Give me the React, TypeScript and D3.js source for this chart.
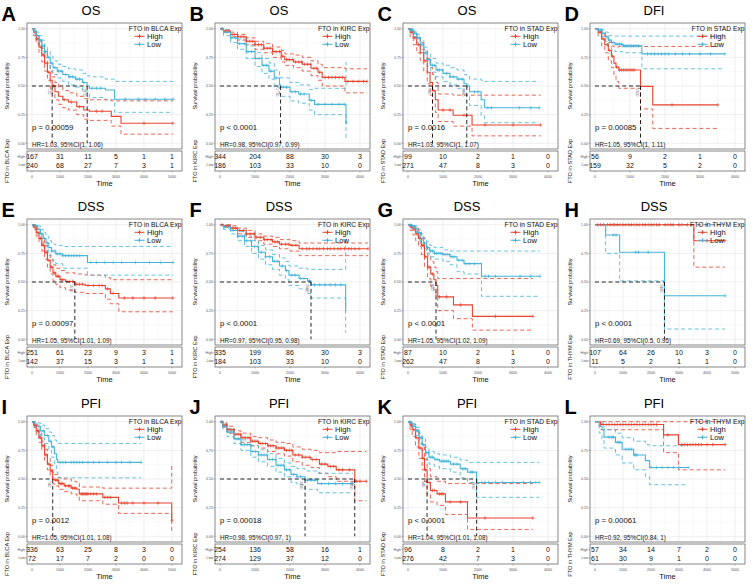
import React from 'react';
import * as d3 from 'd3';

type Row = [number, number, number, number]; // time, survival, lower CI, upper CI

const RED = '#E8442F';
const CYAN = '#46B5D9';
const FONT = "'Liberation Sans', Arial, Helvetica, sans-serif";

// ---------- Panel meta ----------
const PANEL_LETTERS = ['A', 'B', 'C', 'D', 'E', 'F', 'G', 'H', 'I', 'J', 'K', 'L'];
const PANEL_TITLES = ['OS', 'OS', 'OS', 'DFI', 'DSS', 'DSS', 'DSS', 'DSS', 'PFI', 'PFI', 'PFI', 'PFI'];
const PANEL_CANCERS = ['BLCA', 'KIRC', 'STAD', 'STAD', 'BLCA', 'KIRC', 'STAD', 'THYM', 'BLCA', 'KIRC', 'STAD', 'THYM'];
const PANEL_PVALUES = ['p = 0.00059', 'p < 0.0001', 'p = 0.0016', 'p = 0.00085', 'p = 0.00097', 'p < 0.0001', 'p < 0.0001', 'p < 0.0001', 'p = 0.0012', 'p = 0.00018', 'p < 0.0001', 'p = 0.00061'];
const PANEL_HR = [
  'HR=1.03, 95%CI(1, 1.06)', 'HR=0.98, 95%CI(0.97, 0.99)', 'HR=1.03, 95%CI(1, 1.07)', 'HR=1.05, 95%CI(1, 1.11)',
  'HR=1.05, 95%CI(1.01, 1.09)', 'HR=0.97, 95%CI(0.95, 0.98)', 'HR=1.05, 95%CI(1.02, 1.09)', 'HR=0.69, 95%CI(0.5, 0.95)',
  'HR=1.05, 95%CI(1.01, 1.08)', 'HR=0.98, 95%CI(0.97, 1)', 'HR=1.04, 95%CI(1.01, 1.08)', 'HR=0.92, 95%CI(0.84, 1)',
];
const PANEL_XMAX = [5000, 4000, 4000, 4000, 5000, 4000, 4000, 5000, 5000, 4000, 4000, 5000];
const GROUPS = ['High', 'Low'];

// ---------- Risk tables ----------
const RISK_HIGH = [
  [167, 31, 11, 5, 1, 1], [344, 204, 88, 30, 3], [99, 10, 2, 1, 0], [56, 9, 2, 1, 0],
  [251, 61, 23, 9, 3, 1], [335, 199, 86, 30, 3], [87, 10, 2, 1, 0], [107, 64, 26, 10, 3, 0],
  [336, 63, 25, 8, 3, 0], [254, 136, 58, 16, 1], [96, 8, 2, 1, 0], [57, 34, 14, 7, 2, 0],
];
const RISK_LOW = [
  [240, 68, 27, 7, 3, 1], [186, 103, 33, 10, 0], [271, 47, 8, 3, 0], [159, 32, 5, 2, 0],
  [142, 37, 15, 3, 1, 1], [184, 103, 33, 10, 0], [262, 47, 8, 3, 0], [11, 5, 2, 1, 1, 0],
  [72, 17, 7, 2, 0, 0], [274, 129, 37, 12, 0], [276, 42, 7, 3, 0], [61, 30, 9, 1, 0, 0],
];

// ---------- Curves: [time, surv, lower, upper] ----------
const A_high: Row[] = [[0, 1, 1, 1], [60, 0.97, 0.94, 0.99], [150, 0.91, 0.87, 0.95], [250, 0.84, 0.79, 0.89], [350, 0.77, 0.71, 0.83], [450, 0.70, 0.63, 0.77], [550, 0.62, 0.55, 0.70], [650, 0.55, 0.48, 0.63], [720, 0.50, 0.43, 0.58], [820, 0.45, 0.38, 0.53], [950, 0.41, 0.34, 0.49], [1100, 0.38, 0.31, 0.46], [1300, 0.36, 0.29, 0.44], [1600, 0.32, 0.25, 0.41], [1850, 0.29, 0.21, 0.39], [2050, 0.28, 0.20, 0.38], [2830, 0.235, 0.15, 0.37], [3180, 0.175, 0.08, 0.37], [5030, 0.175, 0.08, 0.37]];
const A_low: Row[] = [[0, 1, 1, 1], [60, 0.98, 0.96, 1], [150, 0.94, 0.91, 0.97], [250, 0.90, 0.86, 0.94], [350, 0.85, 0.80, 0.90], [450, 0.80, 0.75, 0.85], [550, 0.75, 0.69, 0.80], [650, 0.70, 0.64, 0.76], [750, 0.66, 0.60, 0.72], [900, 0.63, 0.57, 0.69], [1100, 0.60, 0.54, 0.67], [1300, 0.58, 0.51, 0.65], [1550, 0.56, 0.49, 0.64], [1800, 0.53, 0.46, 0.61], [1970, 0.50, 0.43, 0.59], [2050, 0.48, 0.40, 0.58], [2620, 0.465, 0.38, 0.56], [2950, 0.385, 0.27, 0.54], [5040, 0.385, 0.27, 0.54]];
const A_highCens = [180, 320, 410, 600, 780, 1150, 1400, 1700, 2300, 2500, 4000, 5030];
const A_lowCens = [120, 200, 300, 380, 480, 600, 700, 820, 950, 1050, 1200, 1350, 1450, 1600, 1700, 1850, 2150, 2300, 2450, 3330, 3800, 4050, 4400, 4750, 5040];

const B_high: Row[] = [[0, 1, 1, 1], [100, 0.98, 0.97, 0.99], [300, 0.95, 0.93, 0.97], [500, 0.93, 0.90, 0.95], [750, 0.89, 0.86, 0.92], [1000, 0.86, 0.82, 0.89], [1250, 0.83, 0.79, 0.87], [1500, 0.80, 0.75, 0.84], [1750, 0.76, 0.71, 0.81], [1850, 0.73, 0.68, 0.78], [2100, 0.71, 0.66, 0.77], [2350, 0.69, 0.63, 0.75], [2600, 0.655, 0.59, 0.72], [2800, 0.62, 0.55, 0.69], [2920, 0.575, 0.50, 0.66], [3570, 0.54, 0.44, 0.65], [4200, 0.54, 0.44, 0.65]];
const B_low: Row[] = [[0, 1, 1, 1], [100, 0.97, 0.94, 0.99], [300, 0.92, 0.88, 0.95], [500, 0.87, 0.82, 0.91], [750, 0.80, 0.74, 0.85], [1000, 0.74, 0.67, 0.79], [1200, 0.68, 0.61, 0.74], [1400, 0.63, 0.56, 0.70], [1550, 0.57, 0.49, 0.64], [1700, 0.51, 0.43, 0.58], [1730, 0.49, 0.41, 0.57], [2000, 0.45, 0.37, 0.53], [2250, 0.43, 0.35, 0.51], [2550, 0.375, 0.29, 0.47], [2700, 0.34, 0.25, 0.48], [3600, 0.18, 0.04, 0.71], [3610, 0.18, 0.04, 0.71]];
const B_highCens = [50, 150, 250, 350, 420, 520, 600, 680, 760, 850, 930, 1000, 1100, 1180, 1260, 1350, 1430, 1520, 1600, 1700, 1780, 1900, 1980, 2080, 2160, 2250, 2330, 2420, 2500, 2580, 2680, 2760, 2850, 3000, 3100, 3200, 3300, 3400, 3500, 3650, 3800, 3950, 4100, 4200];
const B_lowCens = [80, 200, 320, 450, 560, 700, 800, 900, 1020, 1120, 1250, 1330, 1450, 1600, 1800, 1900, 2050, 2150, 2300, 2400, 2600, 2800, 3000, 3200, 3400, 3550, 3610];

const C_high: Row[] = [[0, 1, 1, 1], [60, 0.97, 0.93, 1], [150, 0.92, 0.86, 0.97], [250, 0.86, 0.79, 0.93], [350, 0.79, 0.71, 0.88], [450, 0.72, 0.63, 0.82], [550, 0.62, 0.52, 0.74], [630, 0.53, 0.42, 0.66], [700, 0.46, 0.35, 0.60], [780, 0.38, 0.27, 0.53], [860, 0.29, 0.19, 0.43], [1290, 0.245, 0.15, 0.42], [1830, 0.16, 0.065, 0.42], [3790, 0.16, 0.065, 0.42]];
const C_low: Row[] = [[0, 1, 1, 1], [60, 0.99, 0.97, 1], [150, 0.96, 0.93, 0.98], [250, 0.92, 0.88, 0.95], [350, 0.86, 0.82, 0.90], [450, 0.79, 0.74, 0.84], [550, 0.73, 0.67, 0.78], [650, 0.68, 0.62, 0.74], [800, 0.64, 0.58, 0.70], [1000, 0.61, 0.54, 0.68], [1200, 0.58, 0.51, 0.66], [1400, 0.56, 0.48, 0.64], [1600, 0.52, 0.43, 0.60], [1680, 0.50, 0.41, 0.59], [1760, 0.45, 0.33, 0.56], [2090, 0.38, 0.24, 0.55], [2190, 0.31, 0.18, 0.54], [3750, 0.31, 0.18, 0.54]];
const C_highCens = [100, 200, 300, 480, 720, 1000, 1200, 1600, 2200, 3000, 3790];
const C_lowCens = [80, 130, 180, 230, 280, 330, 380, 430, 500, 560, 620, 700, 760, 850, 900, 980, 1100, 1200, 1300, 1450, 1550, 1700, 1900, 2000, 2280, 2380, 3180, 3510, 3750];

const D_high: Row[] = [[0, 1, 1, 1], [90, 0.97, 0.93, 1], [190, 0.91, 0.85, 0.97], [280, 0.86, 0.79, 0.93], [380, 0.81, 0.72, 0.88], [470, 0.76, 0.66, 0.85], [540, 0.70, 0.59, 0.84], [600, 0.665, 0.54, 0.84], [680, 0.64, 0.48, 0.845], [1300, 0.497, 0.30, 0.845], [1650, 0.335, 0.13, 0.845], [3510, 0.335, 0.13, 0.845]];
const D_low: Row[] = [[0, 1, 1, 1], [90, 0.99, 0.97, 1], [200, 0.96, 0.93, 0.99], [300, 0.93, 0.89, 0.97], [380, 0.90, 0.85, 0.94], [470, 0.88, 0.82, 0.935], [570, 0.865, 0.80, 0.935], [800, 0.85, 0.79, 0.935], [1340, 0.78, 0.65, 0.935], [3710, 0.78, 0.65, 0.935]];
const D_highCens = [150, 250, 350, 420, 500, 620, 700, 760, 820, 880, 940, 1000, 1060, 1120, 2200, 3510];
const D_lowCens = [100, 150, 230, 330, 420, 520, 600, 650, 700, 750, 800, 850, 900, 950, 1000, 1050, 1100, 1150, 1200, 1250, 1500, 1600, 1700, 1800, 1900, 2000, 2100, 2300, 2500, 2700, 3000, 3300, 3710];

const E_high: Row[] = [[0, 1, 1, 1], [50, 0.98, 0.96, 1], [150, 0.93, 0.90, 0.96], [250, 0.88, 0.84, 0.92], [350, 0.82, 0.77, 0.87], [450, 0.76, 0.70, 0.82], [550, 0.69, 0.63, 0.75], [650, 0.63, 0.57, 0.70], [750, 0.58, 0.51, 0.65], [850, 0.55, 0.48, 0.62], [1000, 0.52, 0.45, 0.60], [1200, 0.505, 0.43, 0.58], [1530, 0.48, 0.41, 0.57], [1900, 0.47, 0.40, 0.56], [2620, 0.44, 0.35, 0.54], [2800, 0.40, 0.31, 0.52], [3100, 0.36, 0.24, 0.52], [5030, 0.36, 0.24, 0.52]];
const E_low: Row[] = [[0, 1, 1, 1], [80, 0.99, 0.97, 1], [200, 0.96, 0.93, 0.99], [300, 0.92, 0.88, 0.96], [400, 0.88, 0.83, 0.93], [500, 0.84, 0.78, 0.90], [600, 0.80, 0.73, 0.86], [700, 0.77, 0.69, 0.83], [850, 0.745, 0.66, 0.82], [1100, 0.73, 0.62, 0.81], [1980, 0.67, 0.56, 0.81], [5040, 0.67, 0.56, 0.81]];
const E_highCens = [100, 200, 300, 400, 500, 600, 700, 800, 900, 950, 1050, 1100, 1250, 1350, 1450, 1600, 1700, 1800, 2000, 2200, 2400, 2500, 2700, 2900, 3300, 3600, 4000, 4400, 5030];
const E_lowCens = [150, 250, 350, 450, 550, 700, 800, 900, 1000, 1100, 1200, 1300, 1400, 1500, 1600, 1700, 2100, 2300, 2600, 2900, 3200, 3700, 4200, 4600, 5040];

const F_high: Row[] = [[0, 1, 1, 1], [100, 0.99, 0.98, 1], [300, 0.97, 0.95, 0.99], [500, 0.95, 0.92, 0.97], [750, 0.92, 0.89, 0.95], [1000, 0.89, 0.86, 0.92], [1250, 0.87, 0.83, 0.90], [1500, 0.85, 0.81, 0.89], [1700, 0.83, 0.79, 0.87], [2000, 0.82, 0.77, 0.86], [2260, 0.79, 0.73, 0.84], [4230, 0.79, 0.73, 0.84]];
const F_low: Row[] = [[0, 1, 1, 1], [100, 0.98, 0.96, 0.99], [300, 0.95, 0.92, 0.97], [500, 0.90, 0.86, 0.94], [700, 0.86, 0.81, 0.90], [900, 0.81, 0.75, 0.86], [1100, 0.76, 0.70, 0.82], [1300, 0.72, 0.65, 0.78], [1500, 0.68, 0.61, 0.74], [1700, 0.64, 0.56, 0.71], [1870, 0.60, 0.52, 0.68], [1970, 0.56, 0.47, 0.64], [2260, 0.53, 0.44, 0.62], [2500, 0.51, 0.40, 0.61], [2600, 0.475, 0.36, 0.61], [3590, 0.25, 0.06, 0.87], [3600, 0.25, 0.06, 0.87]];
const F_highCens = [60, 170, 250, 370, 450, 560, 670, 750, 860, 970, 1050, 1160, 1270, 1350, 1460, 1570, 1650, 1760, 1870, 1950, 2060, 2170, 2350, 2470, 2550, 2660, 2770, 2850, 2960, 3070, 3150, 3260, 3370, 3450, 3560, 3670, 3750, 3860, 3970, 4230];
const F_lowCens = [120, 240, 380, 520, 640, 760, 880, 990, 1080, 1180, 1300, 1420, 1550, 1650, 1780, 1900, 2050, 2150, 2300, 2400, 2550, 2700, 2850, 3000, 3150, 3300, 3450];

const G_high: Row[] = [[0, 1, 1, 1], [60, 0.98, 0.95, 1], [140, 0.96, 0.91, 0.99], [220, 0.92, 0.86, 0.97], [300, 0.88, 0.81, 0.94], [380, 0.82, 0.74, 0.89], [470, 0.72, 0.63, 0.81], [560, 0.63, 0.53, 0.73], [650, 0.57, 0.46, 0.68], [740, 0.52, 0.41, 0.63], [800, 0.47, 0.36, 0.59], [850, 0.37, 0.25, 0.53], [1300, 0.30, 0.18, 0.53], [1840, 0.20, 0.08, 0.53], [3570, 0.20, 0.08, 0.53]];
const G_low: Row[] = [[0, 1, 1, 1], [80, 0.99, 0.97, 1], [170, 0.97, 0.94, 0.99], [260, 0.93, 0.90, 0.96], [350, 0.88, 0.84, 0.92], [440, 0.84, 0.79, 0.88], [530, 0.80, 0.75, 0.85], [620, 0.77, 0.72, 0.82], [750, 0.75, 0.70, 0.80], [1000, 0.74, 0.68, 0.78], [1200, 0.72, 0.65, 0.77], [1400, 0.69, 0.59, 0.77], [1600, 0.66, 0.57, 0.77], [2100, 0.55, 0.375, 0.77], [3770, 0.55, 0.375, 0.77]];
const G_highCens = [100, 180, 260, 340, 420, 500, 600, 700, 900, 1100, 1500, 2500, 3570];
const G_lowCens = [60, 120, 200, 280, 330, 400, 480, 560, 640, 700, 760, 820, 880, 940, 1000, 1060, 1120, 1180, 1250, 1320, 1450, 1550, 1650, 1750, 1900, 2200, 2300, 2500, 3200, 3500, 3770];

const H_high: Row[] = [[0, 1, 1, 1], [3530, 0.86, 0.63, 1], [4640, 0.86, 0.63, 1]];
const H_low: Row[] = [[0, 1, 1, 1], [380, 0.91, 0.75, 1], [880, 0.76, 0.51, 1], [2480, 0.38, 0.09, 1], [4640, 0.38, 0.09, 1]];
const H_highCens = [100, 200, 300, 450, 550, 650, 700, 800, 900, 1000, 1100, 1200, 1300, 1400, 1500, 1600, 1700, 1800, 1900, 2000, 2100, 2200, 2300, 2500, 2600, 2700, 2800, 3000, 3100, 3300, 4000, 4640];
const H_lowCens = [650, 750, 1450, 1550, 1900, 4640];

const I_high: Row[] = [[0, 1, 1, 1], [60, 0.97, 0.95, 0.99], [150, 0.92, 0.89, 0.95], [250, 0.86, 0.82, 0.90], [350, 0.79, 0.75, 0.83], [450, 0.71, 0.66, 0.76], [550, 0.63, 0.58, 0.68], [650, 0.57, 0.52, 0.62], [740, 0.50, 0.46, 0.56], [800, 0.49, 0.44, 0.54], [950, 0.46, 0.41, 0.51], [1150, 0.44, 0.39, 0.50], [1400, 0.42, 0.37, 0.48], [1600, 0.41, 0.35, 0.47], [1690, 0.37, 0.31, 0.43], [2530, 0.34, 0.28, 0.42], [3090, 0.29, 0.20, 0.42], [4990, 0.14, 0.035, 0.62], [5000, 0.14, 0.035, 0.62]];
const I_low: Row[] = [[0, 1, 1, 1], [100, 0.98, 0.95, 1], [200, 0.96, 0.91, 0.99], [300, 0.92, 0.86, 0.97], [450, 0.88, 0.81, 0.94], [600, 0.83, 0.75, 0.91], [700, 0.78, 0.69, 0.88], [800, 0.72, 0.62, 0.84], [880, 0.67, 0.56, 0.82], [920, 0.645, 0.51, 0.81], [3900, 0.645, 0.51, 0.81]];
const I_highCens = [100, 200, 300, 400, 500, 600, 700, 850, 900, 1000, 1050, 1100, 1200, 1300, 1350, 1450, 1500, 1550, 1750, 1800, 1850, 1900, 1950, 2000, 2100, 2200, 2300, 2600, 2700, 2800, 3200, 3300, 3400, 3600, 4000, 4500, 5000];
const I_lowCens = [250, 400, 550, 650, 750, 1000, 1100, 1200, 1400, 1500, 1600, 1700, 1800, 2000, 2200, 2400, 2700, 3000, 3200, 3500, 3900];

const J_high: Row[] = [[0, 1, 1, 1], [80, 0.97, 0.95, 0.99], [200, 0.93, 0.90, 0.96], [400, 0.89, 0.85, 0.92], [600, 0.86, 0.82, 0.90], [880, 0.83, 0.79, 0.87], [1100, 0.81, 0.77, 0.86], [1360, 0.79, 0.74, 0.84], [1600, 0.77, 0.72, 0.82], [1840, 0.75, 0.70, 0.81], [2080, 0.71, 0.65, 0.78], [2350, 0.69, 0.62, 0.76], [2600, 0.67, 0.60, 0.75], [2840, 0.63, 0.55, 0.73], [3080, 0.61, 0.52, 0.73], [3320, 0.58, 0.48, 0.74], [3850, 0.48, 0.31, 0.74], [4180, 0.48, 0.31, 0.74]];
const J_low: Row[] = [[0, 1, 1, 1], [80, 0.96, 0.93, 0.98], [200, 0.91, 0.87, 0.94], [400, 0.85, 0.81, 0.89], [600, 0.80, 0.75, 0.84], [880, 0.74, 0.69, 0.79], [1100, 0.71, 0.65, 0.76], [1360, 0.67, 0.61, 0.72], [1600, 0.62, 0.56, 0.68], [1840, 0.58, 0.52, 0.64], [2030, 0.54, 0.47, 0.61], [2200, 0.52, 0.45, 0.59], [2430, 0.49, 0.41, 0.57], [2790, 0.46, 0.38, 0.55], [3800, 0.46, 0.38, 0.55]];
const J_highCens = [50, 120, 180, 250, 320, 380, 450, 520, 580, 650, 720, 800, 860, 930, 1000, 1070, 1150, 1220, 1300, 1380, 1450, 1520, 1600, 1680, 1750, 1820, 1900, 1980, 2050, 2150, 2250, 2350, 2450, 2550, 2650, 2750, 2900, 3000, 3150, 3250, 3400, 3500, 3700, 3900, 4000, 4180];
const J_lowCens = [60, 140, 220, 300, 380, 460, 540, 620, 700, 780, 860, 940, 1020, 1100, 1180, 1260, 1340, 1420, 1500, 1580, 1660, 1740, 1820, 1900, 1980, 2100, 2200, 2300, 2500, 2600, 2700, 2900, 3100, 3300, 3500, 3800];

const K_high: Row[] = [[0, 1, 1, 1], [60, 0.97, 0.93, 1], [120, 0.93, 0.87, 0.98], [215, 0.86, 0.78, 0.93], [310, 0.77, 0.68, 0.86], [405, 0.68, 0.58, 0.78], [470, 0.58, 0.48, 0.69], [545, 0.47, 0.37, 0.59], [640, 0.40, 0.30, 0.52], [830, 0.37, 0.27, 0.48], [1070, 0.30, 0.19, 0.46], [1700, 0.16, 0.06, 0.46], [3570, 0.16, 0.06, 0.46]];
const K_low: Row[] = [[0, 1, 1, 1], [60, 0.99, 0.97, 1], [120, 0.96, 0.93, 0.98], [220, 0.92, 0.88, 0.95], [320, 0.86, 0.81, 0.90], [405, 0.80, 0.75, 0.85], [500, 0.73, 0.67, 0.78], [600, 0.69, 0.63, 0.74], [750, 0.67, 0.61, 0.72], [900, 0.655, 0.59, 0.71], [1210, 0.63, 0.56, 0.69], [1490, 0.59, 0.51, 0.665], [1700, 0.56, 0.47, 0.645], [1960, 0.47, 0.34, 0.645], [3750, 0.47, 0.34, 0.645]];
const K_highCens = [90, 160, 250, 350, 430, 500, 600, 700, 760, 900, 950, 1000, 1200, 1500, 2200, 3570];
const K_lowCens = [50, 100, 150, 200, 260, 300, 350, 400, 450, 530, 580, 650, 700, 800, 850, 950, 1000, 1050, 1100, 1150, 1300, 1400, 1550, 1600, 1650, 1800, 1850, 2100, 2200, 2300, 2500, 2700, 3000, 3300, 3500, 3650, 3750];

const L_high: Row[] = [[0, 1, 1, 1], [200, 0.975, 0.93, 1], [2450, 0.885, 0.73, 1], [2980, 0.80, 0.58, 1], [4650, 0.80, 0.58, 1]];
const L_low: Row[] = [[0, 1, 1, 1], [150, 0.96, 0.90, 1], [250, 0.93, 0.84, 0.98], [320, 0.865, 0.77, 0.93], [730, 0.82, 0.71, 0.90], [970, 0.76, 0.64, 0.86], [1380, 0.71, 0.58, 0.83], [1800, 0.66, 0.52, 0.80], [1950, 0.60, 0.45, 0.79], [3330, 0.60, 0.45, 0.79]];
const L_highCens = [300, 400, 500, 600, 700, 800, 900, 1000, 1100, 1200, 1300, 1400, 1500, 1600, 1700, 1800, 1900, 2000, 2100, 2200, 2600, 3100, 3200, 3300, 3400, 3500, 3600, 3700, 3800, 4000, 4200, 4650];
const L_lowCens = [500, 600, 650, 800, 850, 900, 1100, 1200, 1300, 1400, 1450, 1500, 2000, 2200, 2400, 2600, 2800, 3000, 3330];

const HIGH_CURVES = [A_high, B_high, C_high, D_high, E_high, F_high, G_high, H_high, I_high, J_high, K_high, L_high];
const LOW_CURVES = [A_low, B_low, C_low, D_low, E_low, F_low, G_low, H_low, I_low, J_low, K_low, L_low];
const HIGH_CENS = [A_highCens, B_highCens, C_highCens, D_highCens, E_highCens, F_highCens, G_highCens, H_highCens, I_highCens, J_highCens, K_highCens, L_highCens];
const LOW_CENS = [A_lowCens, B_lowCens, C_lowCens, D_lowCens, E_lowCens, F_lowCens, G_lowCens, H_lowCens, I_lowCens, J_lowCens, K_lowCens, L_lowCens];

// ---------- layout ----------
const COL_X = [0, 188, 376, 563];
const ROW_Y = [0, 196, 393];
const PL = 27, PR = 182, PT = 23, PB = 149;
const TT = 151, TB = 171;

function survAt(rows: Row[], t: number): number {
  let s = rows[0][1];
  for (const r of rows) if (r[0] <= t) s = r[1];
  return s;
}
function median(rows: Row[]): number | null {
  for (const r of rows) if (r[1] <= 0.5) return r[0];
  return null;
}

function Panel({ idx }: { idx: number }) {
  const ox = COL_X[idx % 4];
  const oy = ROW_Y[Math.floor(idx / 4)];
  const xmax = PANEL_XMAX[idx];
  const x = d3.scaleLinear().domain([0, xmax]).range([PL + 5, PR - 10]);
  const y = d3.scaleLinear().domain([0, 1]).range([PB - 5.7, PT + 5.7]);
  const xticks = d3.range(0, xmax + 1, 1000);
  const xminor = d3.range(500, xmax + 1000, 1000).filter((v) => x(v) < PR);
  const yticks = [0, 0.25, 0.5, 0.75, 1];
  const yminor = [0.125, 0.375, 0.625, 0.875];
  const line = d3.line<[number, number]>().x((d) => x(d[0])).y((d) => y(d[1])).curve(d3.curveStepAfter);
  const curves = [HIGH_CURVES[idx], LOW_CURVES[idx]];
  const cens = [HIGH_CENS[idx], LOW_CENS[idx]];
  const colors = [RED, CYAN];
  const risks = [RISK_HIGH[idx], RISK_LOW[idx]];
  const meds = curves.map(median);
  const validMeds = meds.filter((m) => m !== null) as number[];
  const maxMed = validMeds.length ? Math.max(...validMeds) : null;
  const tickFs = 3.6;
  return (
    <g transform={`translate(${ox},${oy})`} fontFamily={FONT}>
      <text x={1.5} y={21} fontSize={20} fontWeight="bold">{PANEL_LETTERS[idx]}</text>
      <text x={91} y={14.5} fontSize={13} textAnchor="middle">{PANEL_TITLES[idx]}</text>
      {/* plot background + grid */}
      <rect x={PL} y={PT} width={PR - PL} height={PB - PT} fill="#fff" />
      {xminor.map((v) => <line key={'xm' + v} x1={x(v)} x2={x(v)} y1={PT} y2={PB} stroke="#f0f0f0" strokeWidth={0.4} />)}
      {yminor.map((v) => <line key={'ym' + v} x1={PL} x2={PR} y1={y(v)} y2={y(v)} stroke="#f0f0f0" strokeWidth={0.4} />)}
      {xticks.map((v) => <line key={'xg' + v} x1={x(v)} x2={x(v)} y1={PT} y2={PB} stroke="#e2e2e2" strokeWidth={0.6} />)}
      {yticks.map((v) => <line key={'yg' + v} x1={PL} x2={PR} y1={y(v)} y2={y(v)} stroke="#e2e2e2" strokeWidth={0.6} />)}
      {/* CI */}
      {curves.map((rows, gi) => (
        <g key={'ci' + gi} stroke={colors[gi]} fill="none" strokeWidth={0.9} strokeDasharray="4,2.8" opacity={0.9}>
          <path d={line(rows.map((r) => [r[0], r[2]] as [number, number])) || ''} />
          <path d={line(rows.map((r) => [r[0], r[3]] as [number, number])) || ''} />
        </g>
      ))}
      {/* curves */}
      {curves.map((rows, gi) => (
        <path key={'c' + gi} d={line(rows.map((r) => [r[0], r[1]] as [number, number])) || ''} stroke={colors[gi]} strokeWidth={1.1} fill="none" />
      ))}
      {/* censor marks */}
      {cens.map((ts, gi) => (
        <g key={'cs' + gi} stroke={colors[gi]} strokeWidth={0.65}>
          {ts.map((t, k) => {
            const cx = x(t), cy = y(survAt(curves[gi], t));
            return <path key={k} d={`M${cx - 1.5},${cy}H${cx + 1.5}M${cx},${cy - 1.8}V${cy + 1.8}`} />;
          })}
        </g>
      ))}
      {/* median lines */}
      {maxMed !== null && (
        <g stroke="#000" strokeWidth={0.85} strokeDasharray="4,2.8" fill="none">
          <line x1={x(0)} x2={x(maxMed)} y1={y(0.5)} y2={y(0.5)} />
          {validMeds.map((m, k) => <line key={k} x1={x(m)} x2={x(m)} y1={y(0.5)} y2={y(0)} />)}
        </g>
      )}
      {validMeds.map((m, k) => (
        <text key={'mt' + k} transform={`translate(${x(m) - 4.6},${y(0.5) + 2}) rotate(90)`} fontSize={3.8} fill="#777">{String(Math.round(m))}</text>
      ))}
      {/* border */}
      <rect x={PL} y={PT} width={PR - PL} height={PB - PT} fill="none" stroke="#555" strokeWidth={0.7} />
      {/* y axis */}
      {yticks.map((v) => (
        <g key={'yt' + v}>
          <line x1={PL - 1.5} x2={PL} y1={y(v)} y2={y(v)} stroke="#555" strokeWidth={0.4} />
          <text x={PL - 2} y={y(v) + 1.2} fontSize={tickFs} textAnchor="end" fill="#555">{v.toFixed(2)}</text>
        </g>
      ))}
      <text transform={`translate(8.5,${(PT + PB) / 2}) rotate(-90)`} fontSize={5.6} textAnchor="middle" fill="#222">Survival probability</text>
      {/* p value & HR */}
      <text x={x(0)} y={130} fontSize={7.8} fill="#111">{PANEL_PVALUES[idx]}</text>
      <text x={x(0)} y={146.5} fontSize={6.3} fill="#111">{PANEL_HR[idx]}</text>
      {/* legend */}
      <text x={PR - 0.5} y={30.5} fontSize={6.7} textAnchor="end" fill="#111">{`FTO in ${PANEL_CANCERS[idx]} Exp`}</text>
      {GROUPS.map((g, gi) => {
        const ly = 36.3 + gi * 8;
        return (
          <g key={'lg' + g}>
            <line x1={134.5} x2={144.5} y1={ly} y2={ly} stroke={colors[gi]} strokeWidth={1} />
            <path d={`M${139.5 - 1.7},${ly}H${139.5 + 1.7}M${139.5},${ly - 2}V${ly + 2}`} stroke={colors[gi]} strokeWidth={1} />
            <text x={147} y={ly + 2.6} fontSize={7.6} fill="#111">{g}</text>
          </g>
        );
      })}
      {/* risk table */}
      <rect x={PL} y={TT} width={PR - PL} height={TB - TT} fill="#fff" stroke="#555" strokeWidth={0.7} />
      {risks.map((vals, gi) => {
        const ry = gi === 0 ? 156.3 : 165;
        return (
          <g key={'rk' + gi}>
            <line x1={PL - 1.5} x2={PL} y1={ry} y2={ry} stroke="#555" strokeWidth={0.4} />
            <text x={PL - 2} y={ry + 1.2} fontSize={tickFs} textAnchor="end" fill="#555">{GROUPS[gi]}</text>
            {vals.map((v, k) => (
              <text key={k} x={x(k * 1000)} y={ry + 2.5} fontSize={7} textAnchor="middle" fill="#111">{v}</text>
            ))}
          </g>
        );
      })}
      {xticks.map((v) => (
        <g key={'xt' + v}>
          <line x1={x(v)} x2={x(v)} y1={TB} y2={TB + 1.5} stroke="#555" strokeWidth={0.4} />
          <text x={x(v)} y={177.5} fontSize={tickFs} textAnchor="middle" fill="#555">{v}</text>
        </g>
      ))}
      <text transform={`translate(8.5,161) rotate(-90)`} fontSize={5.6} textAnchor="middle" fill="#222">{`FTO in ${PANEL_CANCERS[idx]} Exp`}</text>
      <text x={(PL + PR) / 2} y={185.5} fontSize={7.5} textAnchor="middle" fill="#111">Time</text>
    </g>
  );
}

export default function App() {
  return (
    <svg width={754} height={586} viewBox="0 0 754 586" style={{ position: 'absolute', left: 0, top: 0, background: '#fff' }}>
      <rect width={754} height={586} fill="#fff" />
      {PANEL_LETTERS.map((_, i) => <Panel key={i} idx={i} />)}
    </svg>
  );
}
